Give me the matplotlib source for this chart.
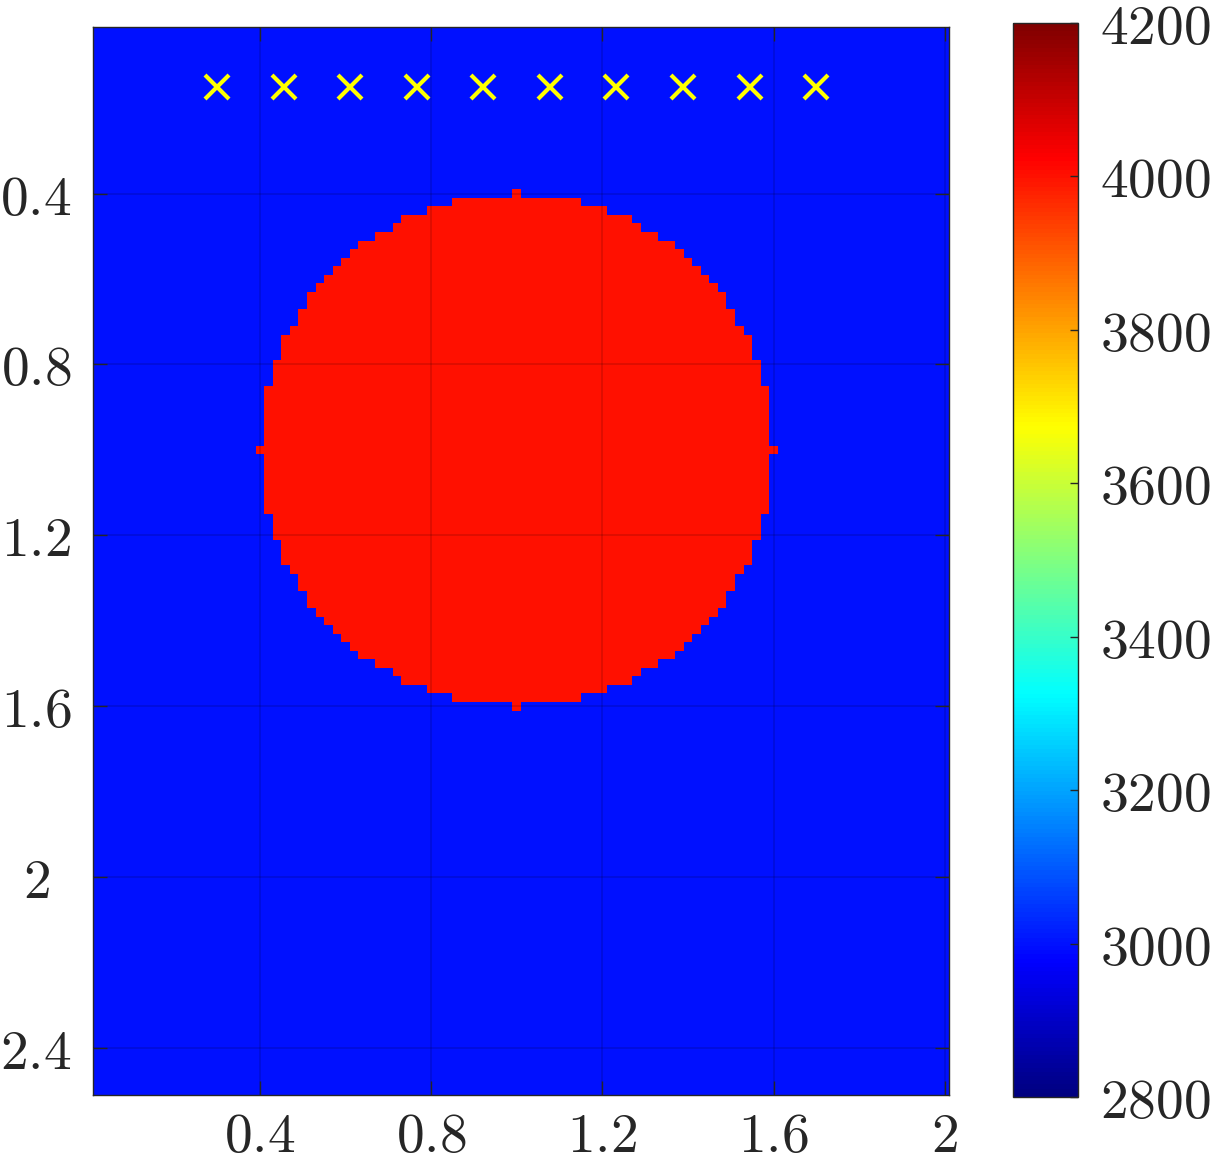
import numpy as np
import matplotlib
matplotlib.use("Agg")
import matplotlib.pyplot as plt
from matplotlib.colors import LinearSegmentedColormap

# grid of cell centres (spacing 0.02)
x_start, x_stop, dx = 0.02, 2.0, 0.02
y_start, y_stop, dy = 0.02, 2.5, 0.02

# circular inclusion in a uniform background
background_value = 3000
inclusion_value = 4000
circle_center = (1.0, 1.0)
circle_radius = 0.6

# receiver positions (yellow crosses)
receiver_x = [0.3, 0.456, 0.611, 0.767, 0.922, 1.078, 1.233, 1.389, 1.544, 1.7]
receiver_y = [0.15] * 10

color_limits = (2800, 4200)
x_ticks = [0.4, 0.8, 1.2, 1.6, 2.0]
x_tick_labels = ["0.4", "0.8", "1.2", "1.6", "2"]
y_ticks = [0.4, 0.8, 1.2, 1.6, 2.0, 2.4]
y_tick_labels = ["0.4", "0.8", "1.2", "1.6", "2", "2.4"]
cbar_ticks = [2800, 3000, 3200, 3400, 3600, 3800, 4000, 4200]

# matlab-style jet
matlab_jet = LinearSegmentedColormap("matlab_jet", {
    "red":   [(0, 0, 0), (0.375, 0, 0), (0.625, 1, 1), (0.875, 1, 1), (1, 0.5, 0.5)],
    "green": [(0, 0, 0), (0.125, 0, 0), (0.375, 1, 1), (0.625, 1, 1), (0.875, 0, 0), (1, 0, 0)],
    "blue":  [(0, 0.5, 0.5), (0.125, 1, 1), (0.375, 1, 1), (0.625, 0, 0), (1, 0, 0)],
}, N=256)

xs = np.arange(x_start, x_stop + dx / 2, dx)
ys = np.arange(y_start, y_stop + dy / 2, dy)
X, Y = np.meshgrid(xs, ys)
field = np.full(X.shape, float(background_value))
inside = (X - circle_center[0]) ** 2 + (Y - circle_center[1]) ** 2 <= circle_radius ** 2 + 1e-9
field[inside] = inclusion_value

plt.rcParams["mathtext.fontset"] = "cm"
text_color = (0.15, 0.15, 0.15)
fs = 40

fig = plt.figure(figsize=(12.15, 11.68), dpi=100)
ax = fig.add_axes([93 / 1215, 1 - 1095 / 1168, 856 / 1215, 1068 / 1168])

im = ax.imshow(field, cmap=matlab_jet, vmin=color_limits[0], vmax=color_limits[1],
               extent=[x_start - dx / 2, x_stop + dx / 2, y_stop + dy / 2, y_start - dy / 2],
               interpolation="nearest", aspect="auto")
ax.plot(receiver_x, receiver_y, "x", color="yellow", markersize=17, markeredgewidth=3)

ax.set_xlim(x_start - dx / 2, x_stop + dx / 2)
ax.set_ylim(y_stop + dy / 2, y_start - dy / 2)
ax.set_xticks(x_ticks)
ax.set_xticklabels([f"${t}$" for t in x_tick_labels])
ax.set_yticks(y_ticks)
ax.set_yticklabels([f"${t}$" for t in y_tick_labels])
ax.tick_params(direction="in", length=10, width=1, colors=text_color, labelsize=fs,
               top=True, right=True)
ax.tick_params(axis="x", pad=11)
ax.tick_params(axis="y", pad=41)
for lbl in ax.get_yticklabels():
    lbl.set_horizontalalignment("center")
ax.set_axisbelow(False)
ax.grid(True, color="k", alpha=0.15, linewidth=1.2)
for sp in ax.spines.values():
    sp.set_color(text_color)
    sp.set_linewidth(1)

cax = fig.add_axes([1013 / 1215, 1 - 1097 / 1168, 65 / 1215, 1074 / 1168])
cb = fig.colorbar(im, cax=cax, ticks=cbar_ticks)
cb.ax.set_yticklabels([f"${t}$" for t in cbar_ticks])
cb.ax.tick_params(direction="in", length=6, width=1, colors=text_color, labelsize=fs, pad=16)
cb.outline.set_edgecolor(text_color)
cb.outline.set_linewidth(1)

fig.savefig("out.png", dpi=100)
